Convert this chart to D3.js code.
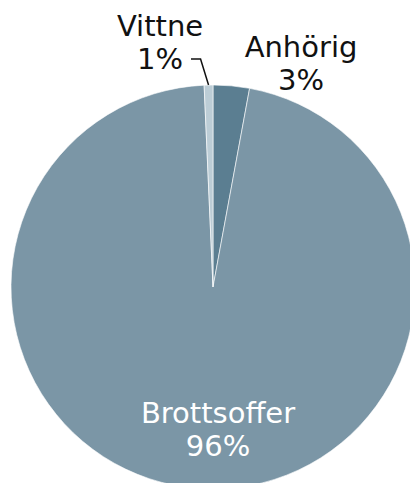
<!DOCTYPE html>
<html>
<head>
<meta charset="utf-8">
<script src="https://cdn.jsdelivr.net/npm/d3@7"></script>
<style>
  html, body { margin: 0; padding: 0; background: #fff; }
  svg { display: block; }
  text { font-family: "DejaVu Sans", Verdana, sans-serif; font-size: 29px; }
</style>
</head>
<body>
<div id="chart"></div>
<script>
// data
var categories = ['Anhörig', 'Brottsoffer', 'Vittne'];
var values = [2.9, 96.4, 0.7];
var colors = ['#5b7e91', '#7b96a6', '#bccdd6'];

// svg size
var width = 410;
var height = 483;

// pie center and radius
var cx = 213;
var cy = 287;
var radius = 202;

// label placement relative to center (line 1 baseline)
var labelLayout = [
  { dx: 88, dy: -230, fill: '#111' },
  { dx: 5, dy: 136, fill: '#fff' },
  { dx: -53, dy: -251, fill: '#111' }
];
var lineGap = 33;

var svg = d3.select('#chart').append('svg')
  .attr('width', width)
  .attr('height', height);

var g = svg.append('g')
  .attr('transform', 'translate(' + cx + ',' + cy + ')');

var pie = d3.pie().sort(null).value(function(d) { return d; });
var arcs = pie(values);

var arc = d3.arc().innerRadius(0).outerRadius(radius);

g.selectAll('path.slice')
  .data(arcs)
  .enter()
  .append('path')
  .attr('class', 'slice')
  .attr('d', arc)
  .attr('fill', function(d, i) { return colors[i]; })
  .attr('stroke', '#fff')
  .attr('stroke-width', 0.6);

// labels
var labels = g.selectAll('text.label')
  .data(arcs)
  .enter()
  .append('text')
  .attr('class', 'label')
  .attr('text-anchor', 'middle')
  .attr('fill', function(d, i) { return labelLayout[i].fill; });

labels.append('tspan')
  .attr('x', function(d, i) { return labelLayout[i].dx; })
  .attr('y', function(d, i) { return labelLayout[i].dy; })
  .text(function(d, i) { return categories[i]; });

labels.append('tspan')
  .attr('x', function(d, i) { return labelLayout[i].dx; })
  .attr('y', function(d, i) { return labelLayout[i].dy + lineGap; })
  .text(function(d) { return Math.round(d.data) + '%'; });

// leader line for Vittne
var v = arcs[2];
var mid = (v.startAngle + v.endAngle) / 2;
var ex = radius * Math.sin(mid);
var ey = -radius * Math.cos(mid);
var lx = labelLayout[2].dx;
var ly = labelLayout[2].dy + lineGap - 10;
g.append('path')
  .attr('d', d3.line()([[lx + 31, ly], [ex - 8, ly], [ex, ey]]))
  .attr('fill', 'none')
  .attr('stroke', '#111')
  .attr('stroke-width', 1.5);
</script>
</body>
</html>
